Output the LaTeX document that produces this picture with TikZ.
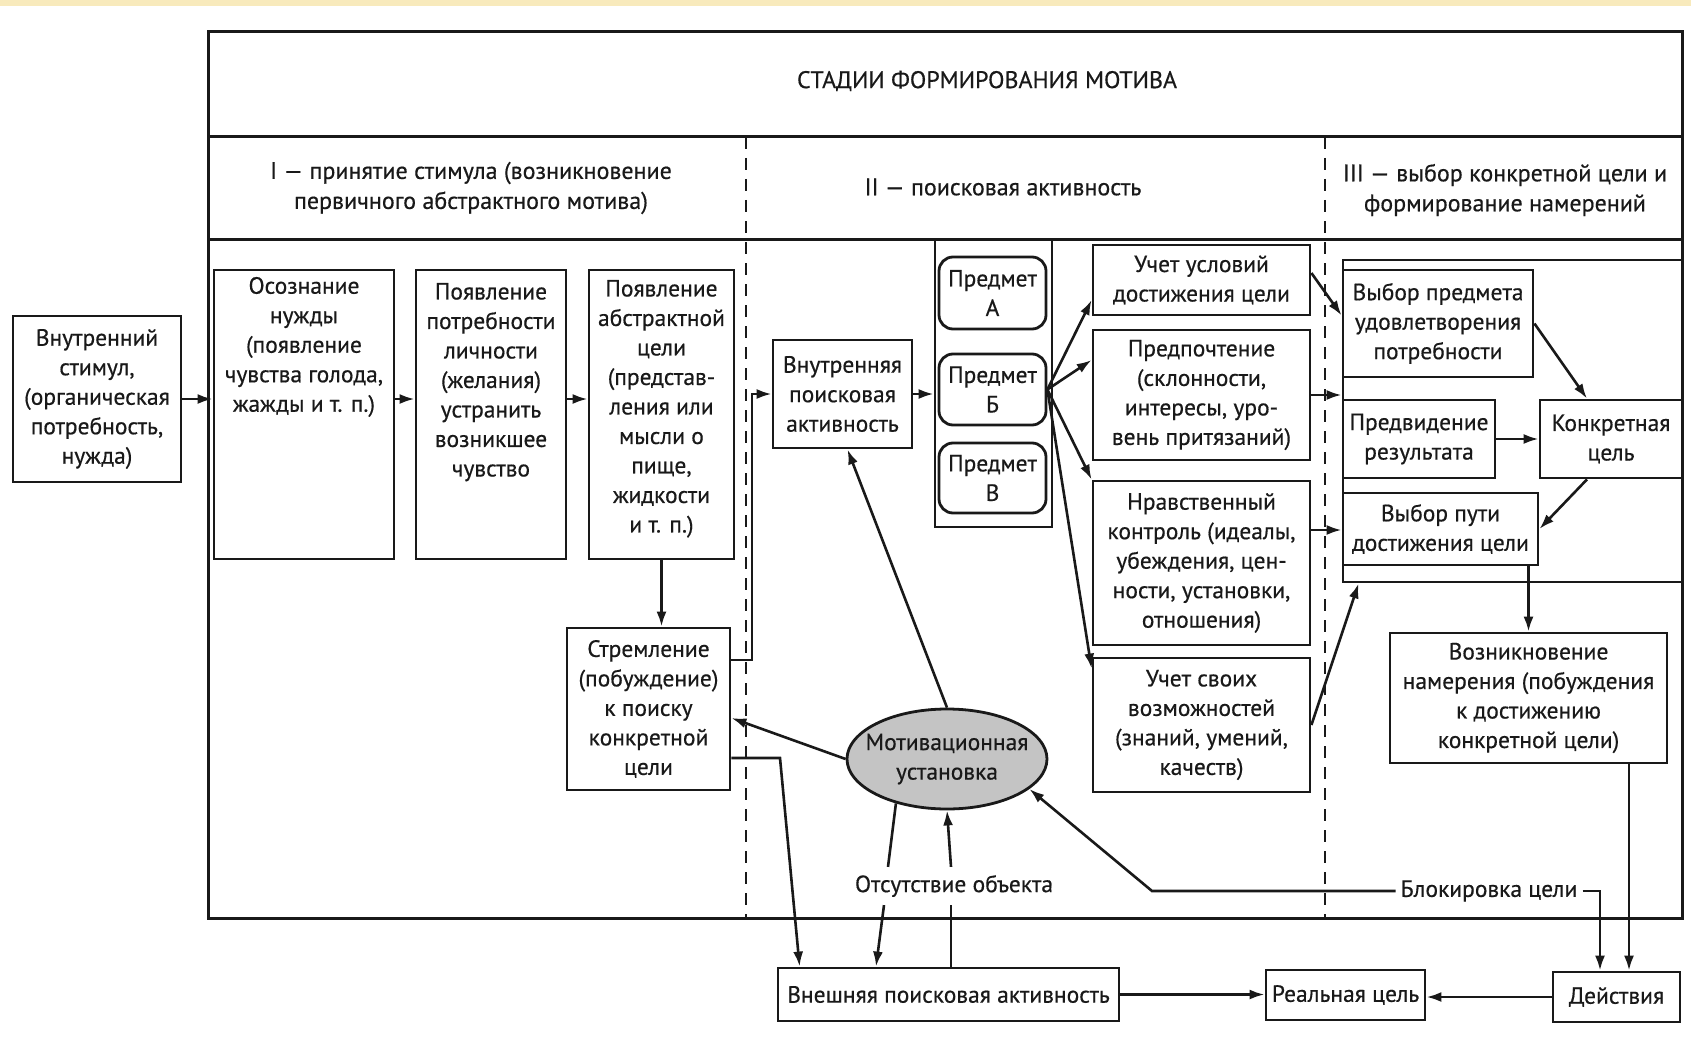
\documentclass[tikz,border=0pt]{standalone}
\usepackage{fontspec}
\setmainfont{PT Sans}
\newfontfamily\dfont{PT Sans}[FakeBold=0.5]
\usetikzlibrary{arrows.meta,shapes.geometric,calc}
\newcommand\bxf{\dfont\fontsize{23.5pt}{29.5pt}\selectfont}
\newcommand\hdf{\dfont\fontsize{24pt}{30pt}\selectfont}
\definecolor{ink}{RGB}{25,25,25}
\definecolor{strip}{RGB}{248,234,188}
\definecolor{ellfill}{RGB}{196,196,196}
\begin{document}
\begin{tikzpicture}[x=1pt,y=-1pt,
  box/.style={draw=ink, line width=2.8pt, inner sep=2pt, align=center, font=\bxf, text=ink},
  rbox/.style={box, rounded corners=14pt},
  hdr/.style={align=center, font=\hdf, text=ink, inner sep=2pt},
  lbl/.style={font=\bxf, text=ink, inner sep=8pt},
  ln/.style={draw=ink, line width=2.6pt},
  arr/.style={ln, -{Latex[length=15pt,width=10pt]}},
  divider/.style={draw=ink, line width=2.5pt, dash pattern=on 12pt off 9pt},
  frame/.style={draw=ink, line width=3pt}]
\useasboundingbox (0,0) rectangle (1691,1043);
\fill[strip] (0,0) rectangle (1691,6);

% main frame
\draw[frame] (208,32) rectangle (1682,918);
\draw[frame] (208,137) -- (1682,137);
\draw[frame] (208,239) -- (1682,239);
\draw[divider] (746,137) -- (746,918);
\draw[divider] (1325,137) -- (1325,918);

% headers
\node[hdr] (title) at (987,81) {СТАДИИ ФОРМИРОВАНИЯ МОТИВА};
\node[hdr] (h1) at (471,188) {I — принятие стимула (возникновение\\первичного абстрактного мотива)};
\node[hdr] (h2) at (1003,187) {II — поисковая активность};
\node[hdr] (h3) at (1505,190) {III — выбор конкретной цели и\\формирование намерений};

% stage I
\node[box, minimum width=168pt, minimum height=166pt] (stim) at (97,399)
  {Внутренний\\стимул,\\(органическая\\потребность,\\нужда)};
\node[box, inner sep=0pt, minimum width=180pt, minimum height=289pt] (osoz) at (304,414.5)
  {\parbox[c][289pt][t]{178pt}{\centering\vspace*{7pt}Осознание\\нужды\\(появление\\чувства голода,\\жажды и т. п.)}};
\node[box, inner sep=0pt, minimum width=150pt, minimum height=289pt] (potr) at (491,414.5)
  {\parbox[c][289pt][t]{148pt}{\centering\vspace*{13pt}Появление\\потребности\\личности\\(желания)\\устранить\\возникшее\\чувство}};
\node[box, inner sep=0pt, minimum width=145pt, minimum height=289pt] (abstr) at (661.5,414.5)
  {\parbox[c][289pt][t]{143pt}{\centering\vspace*{10pt}Появление\\абстрактной\\цели\\(представ-\\ления или\\мысли о\\пище,\\жидкости\\и т. п.)}};
\node[box, minimum width=163pt, minimum height=162pt] (strem) at (648.5,709)
  {Стремление\\(побуждение)\\к поиску\\конкретной\\цели};

% stage II
\node[box, minimum width=139pt, minimum height=108pt] (vnutr) at (842.5,394)
  {Внутренняя\\поисковая\\активность};
\node[box, minimum width=117pt, minimum height=287pt] (pg) at (993.5,383.5) {};
\node[rbox, minimum width=107pt, minimum height=72pt] (pA) at (992.5,293) {Предмет\\А};
\node[rbox, minimum width=107pt, minimum height=71pt] (pB) at (992.5,389.5) {Предмет\\Б};
\node[rbox, minimum width=107pt, minimum height=70pt] (pV) at (992.5,478) {Предмет\\В};
\node[box, minimum width=217pt, minimum height=70pt] (uslov) at (1201.5,280)
  {Учет условий\\достижения цели};
\node[box, minimum width=217pt, minimum height=130pt] (predp) at (1201.5,395)
  {Предпочтение\\(склонности,\\интересы, уро-\\вень притязаний)};
\node[box, minimum width=217pt, minimum height=164pt] (nravst) at (1201.5,563)
  {Нравственный\\контроль (идеалы,\\убеждения, цен-\\ности, установки,\\отношения)};
\node[box, minimum width=217pt, minimum height=134pt] (vozm) at (1201.5,725)
  {Учет своих\\возможностей\\(знаний, умений,\\качеств)};
\node[ellipse, draw=ink, line width=2.8pt, fill=ellfill, minimum width=200pt, minimum height=100pt,
  inner xsep=-14pt, inner ysep=-8pt, align=center, font=\bxf, text=ink] (mot) at (947,759) {Мотивационная\\установка};

% stage III
\node[box, minimum width=339pt, minimum height=322pt] (g3) at (1512.5,421) {};
\node[box, minimum width=190pt, minimum height=107pt] (vybpred) at (1438,323.5)
  {Выбор предмета\\удовлетворения\\потребности};
\node[box, minimum width=152pt, minimum height=78pt] (predv) at (1419,439)
  {Предвидение\\результата};
\node[box, minimum width=142pt, minimum height=78pt] (konkr) at (1611,439)
  {Конкретная\\цель};
\node[box, minimum width=195pt, minimum height=72pt] (vybput) at (1440.5,529)
  {Выбор пути\\достижения цели};
\node[box, minimum width=277pt, minimum height=130pt] (vozn) at (1528.5,698)
  {Возникновение\\намерения (побуждения\\к достижению\\конкретной цели)};

% bottom row
\node[box, minimum width=341pt, minimum height=53pt] (vnesh) at (948.5,994.5)
  {Внешняя поисковая активность};
\node[box, minimum width=159pt, minimum height=50pt] (real) at (1345.5,995) {Реальная цель};
\node[box, minimum width=127pt, minimum height=50pt] (deistv) at (1616.5,997) {Действия};
\node[lbl] (otsut) at (954,886) {Отсутствие объекта};
\node[lbl, inner sep=5pt] (blok) at (1489,891) {Блокировка цели};

\coordinate (sv) at (752,394);
\coordinate (sc) at (780,758);
\coordinate (bk) at (1152,891);

% connectors stage I
\draw[arr] (stim.east) -- (stim.east -| osoz.west);
\draw[arr] (osoz.east |- stim.east) -- (potr.west |- stim.east);
\draw[arr] (potr.east |- stim.east) -- (abstr.west |- stim.east);
\draw[arr] (abstr.south) -- (abstr.south |- strem.north);
\draw[arr] ([yshift=49pt]strem.east) -| (sv) -- (vnutr.west);
\draw[arr] ([yshift=-49pt]strem.east) -- (sc) -- ([xshift=23pt]vnesh.north west);
\draw[arr] (mot.west) -- ([yshift=-9pt]strem.east);
\draw[arr] (mot.north) -- ([xshift=5pt]vnutr.south);

% stage II
\draw[arr] (vnutr.east) -- (vnutr.east -| pg.west);
\draw[arr] (pB.east) -- ([yshift=-20pt]uslov.west);
\draw[arr] (pB.east) -- ([yshift=35pt]predp.west);
\draw[arr] (pB.east) -- (nravst.north west);
\draw[arr] (pB.east) -- ([yshift=-12pt]vozm.north west);
\draw[arr] ([yshift=7pt]uslov.east) -- ([yshift=8pt]vybpred.west);
\draw[arr] (predp.east) -- (predp.east -| g3.west);
\draw[arr] ([yshift=33pt]nravst.east) -- ([yshift=33pt]nravst.east -| g3.west);
\draw[arr] (vozm.east) -- ([xshift=17pt]g3.south west);

% stage III
\draw[arr] (vybpred.east) -- ([xshift=-24pt]konkr.north);
\draw[arr] (predv.east) -- (konkr.west);
\draw[arr] ([xshift=-24pt]konkr.south) -- (vybput.east);
\draw[arr] (vozn.north |- vybput.south) -- (vozn.north);
\draw[arr] ([xshift=12.5pt]deistv.north |- vozn.south) -- ([xshift=12.5pt]deistv.north);

% blocking
\draw[arr] (blok.west) -- (bk) -- (mot.-20);
\draw[arr] (blok.east) -| ([xshift=-16.5pt]deistv.north);

% absence of object
\draw[ln] (mot.221) -- ([xshift=-66pt]otsut.north);
\draw[arr] ([xshift=-70pt]otsut.south) -- ([xshift=-72.5pt]vnesh.north);
\draw[ln] ([xshift=2.5pt]vnesh.north) -- ([xshift=-3pt]otsut.south);
\draw[arr] ([xshift=-3pt]otsut.north) -- (mot.south);

% bottom row
\draw[arr] (vnesh.east) -- (vnesh.east -| real.west);
\draw[arr] (deistv.west) -- (deistv.west -| real.east);
\end{tikzpicture}
\end{document}
